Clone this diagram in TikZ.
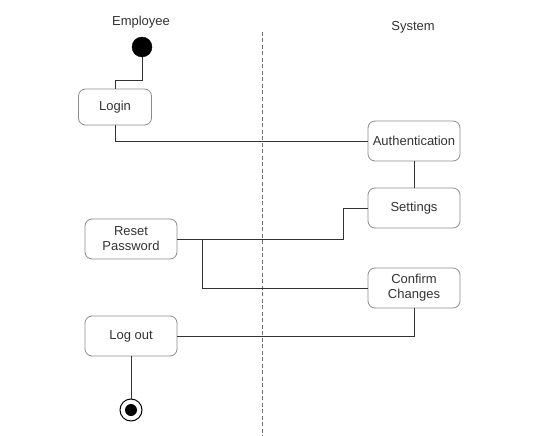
\documentclass[tikz,border=0pt]{standalone}
\usepackage{fontspec}
\setmainfont{Liberation Sans}
\usepackage{tikz}
\usetikzlibrary{arrows.meta,positioning,calc}
\usepackage{xcolor}
\definecolor{BoxLine}{HTML}{8C8C8C}
\definecolor{EdgeLine}{HTML}{333333}
\definecolor{DarkText}{HTML}{333333}
\tikzset{
  activity/.style={rounded corners=7pt, draw=BoxLine, fill=white, line width=0.8pt, text=DarkText, minimum width=92pt, minimum height=40pt, inner sep=2pt, align=center, font=\fontsize{13}{15}\selectfont},
  lanelabel/.style={text=DarkText, font=\fontsize{13}{15}\selectfont},
  edge/.style={draw=EdgeLine, line width=1pt},
  startnode/.style={circle, fill=black, draw=black, minimum size=20pt, inner sep=0pt},
  endnode/.style={circle, draw=black, fill=white, line width=1pt, minimum size=22pt, inner sep=0pt}
}
\begin{document}
\begin{tikzpicture}[x=1pt,y=-1pt]
\useasboundingbox (0,0) rectangle (549,436);
% swimlane divider and headings
\coordinate (lanetop) at (262,32);
\coordinate (lanebottom) at (262,436);
\draw[BoxLine!80!black, line width=1pt, dash pattern=on 4pt off 2.5pt] (lanetop) -- (lanebottom);
\node[lanelabel] (employee) at (141,22) {Employee};
\node[lanelabel] (system) at (413,27) {System};
% employee lane
\node[startnode] (start) at (142,47) {};
\node[activity, minimum width=73pt, minimum height=36pt] (login) at (115,107) {Login};
\node[activity] (reset) at (131,239) {Reset\\Password};
\node[activity] (logout) at (131,336) {Log out};
\node[endnode] (finish) at (131,410) {};
\fill (finish.center) circle (6pt);
% system lane
\node[activity] (auth) at (414,141) {Authentication};
\node[activity] (settings) at (414,208) {Settings};
\node[activity] (confirm) at (414,288) {Confirm\\Changes};
% connectors
\draw[edge] (start.south) -- ++(0,23) -| (login.north);
\draw[edge] (login.south) |- (auth.west);
\draw[edge] (auth.south) -- (settings.north);
\draw[edge] (settings.west) -- ++(-24,0) |- (reset.east);
\draw[edge] (reset.east) -- ++(25,0) |- (confirm.west);
\draw[edge] (confirm.south) |- (logout.east);
\draw[edge] (logout.south) -- (finish.north);
\end{tikzpicture}
\end{document}
